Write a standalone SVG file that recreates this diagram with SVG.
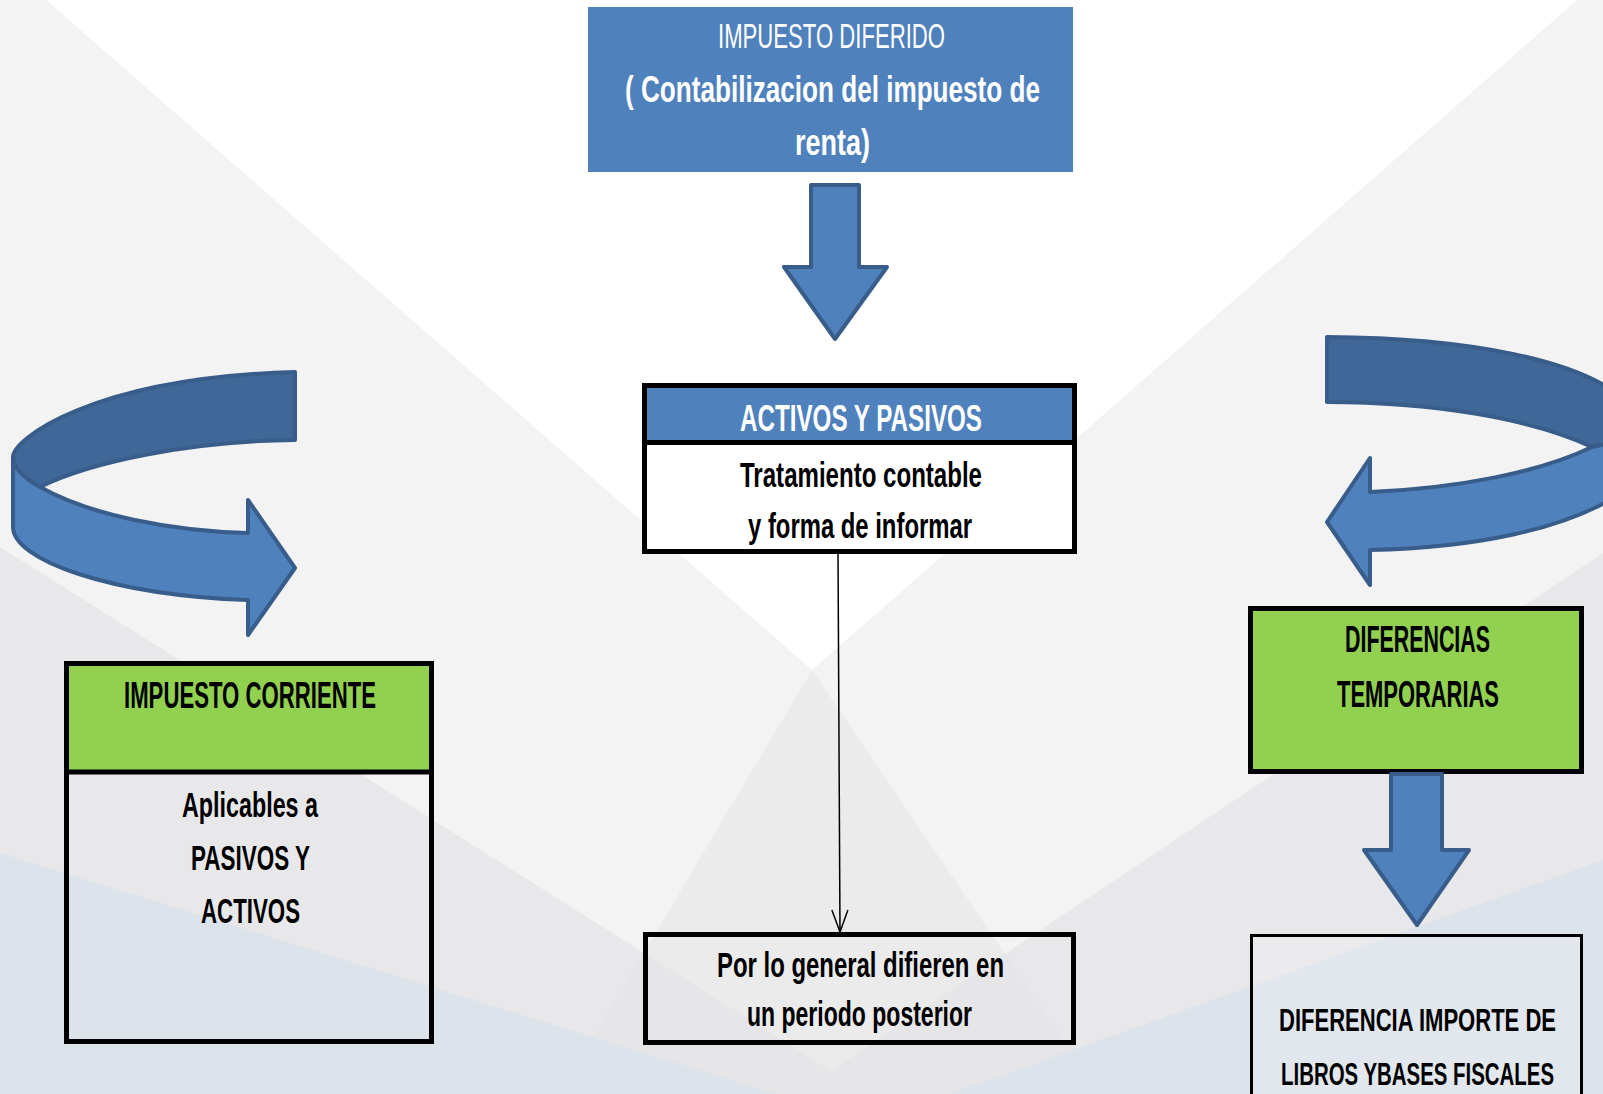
<svg xmlns="http://www.w3.org/2000/svg" width="1603" height="1094" viewBox="0 0 1603 1094">
<defs>
<style>
.t{font-family:"Liberation Sans Narrow","Liberation Sans",Arial,sans-serif;font-weight:bold;font-size:35px;fill:#000}
.h{font-size:36px}
.wt{fill:#FFFFFF}
.reg{font-weight:normal}
.box{stroke:#000;stroke-width:5}
.arr{fill:#4F81BD;stroke:#385D8A;stroke-width:4;stroke-linejoin:round}
.back{fill:#3F6797;stroke:#385D8A;stroke-width:4;stroke-linejoin:round}
.conn{fill:none;stroke:#000;stroke-width:1.5}
</style>
<marker id="openArrow" markerUnits="userSpaceOnUse" markerWidth="30" markerHeight="24" refX="0" refY="0" viewBox="-24 -12 30 24" orient="auto">
<path d="M-22,-8 L0,0 L-22,8" fill="none" stroke="#000" stroke-width="1.5"/>
</marker>
</defs>

<g id="background">
<rect x="0" y="0" width="1603" height="1094" fill="#F3F3F3"/>
<polygon points="46,0 1577,0 812,670" fill="#FFFFFF"/>
<polygon points="0,547 868,1094 0,1094" fill="#E8E8EA"/>
<polygon points="1603,553 796,1094 1603,1094" fill="#E8E8EA"/>
<polygon points="812,670 560,1094 1100,1094" fill="#E4E4E6" opacity="0.5"/>
<polygon points="0,853 777,1094 0,1094" fill="#DCE3EA"/>
<polygon points="950,1094 1603,860 1603,1094" fill="#DCE3EA"/>
</g>

<g id="impuesto-diferido">
<rect x="588" y="7" width="485" height="165" fill="#4F81BD"/>
<text class="t wt reg" x="718" y="48" style="font-size:35px" textLength="227" lengthAdjust="spacingAndGlyphs">IMPUESTO DIFERIDO</text>
<text class="t wt" x="625" y="102" style="font-size:37px" textLength="415" lengthAdjust="spacingAndGlyphs">( Contabilizacion del impuesto de</text>
<text class="t wt" x="795" y="155" style="font-size:37px" textLength="75" lengthAdjust="spacingAndGlyphs">renta)</text>
</g>

<g id="arrow-down-top">
<path class="arr" d="M811,185 L859,185 L859,267 L887,267 L835,339 L784,267 L811,267 Z"/>
</g>

<g id="activos-pasivos">
<rect x="644.5" y="385.5" width="430" height="57" fill="#4F81BD"/>
<rect x="644.5" y="442.5" width="430" height="109" fill="#FFFFFF"/>
<rect class="box" x="644.5" y="385.5" width="430" height="166" fill="none"/>
<line x1="644.5" y1="442.5" x2="1074.5" y2="442.5" stroke="#000" stroke-width="5"/>
<text class="t h wt" x="740" y="431" textLength="242" lengthAdjust="spacingAndGlyphs">ACTIVOS Y PASIVOS</text>
<text class="t" x="740" y="487" textLength="242" lengthAdjust="spacingAndGlyphs">Tratamiento contable</text>
<text class="t" x="748" y="538" textLength="224" lengthAdjust="spacingAndGlyphs">y forma de informar</text>
</g>

<g id="por-lo-general">
<rect class="box" x="645.5" y="934.5" width="428" height="108" fill="none"/>
<text class="t" x="717" y="977" textLength="287" lengthAdjust="spacingAndGlyphs">Por lo general difieren en</text>
<text class="t" x="747" y="1026" textLength="225" lengthAdjust="spacingAndGlyphs">un periodo posterior</text>
</g>

<g id="arrow-curved-left">
<path class="back" d="M295,372 L295,440 C190,441 90,462 40,487 C22,477 13,467 13,457 C13,440 90,378 295,372 Z"/>
<path class="arr" d="M13,457 C13,467 22,477 40,487 C90,515 170,531 248,533 L248,500 L295,568 L248,635 L248,600 C110,595 13,560 13,527 Z"/>
</g>

<g id="impuesto-corriente">
<rect x="66.5" y="663.5" width="365" height="108.5" fill="#92D050"/>
<rect class="box" x="66.5" y="663.5" width="365" height="378" fill="none"/>
<line x1="66.5" y1="772" x2="431.5" y2="772" stroke="#000" stroke-width="5"/>
<text class="t h" x="124" y="708" textLength="252" lengthAdjust="spacingAndGlyphs">IMPUESTO CORRIENTE</text>
<text class="t" x="182" y="817" textLength="136" lengthAdjust="spacingAndGlyphs">Aplicables a</text>
<text class="t" x="191" y="870" textLength="119" lengthAdjust="spacingAndGlyphs">PASIVOS Y</text>
<text class="t" x="201" y="923" textLength="99" lengthAdjust="spacingAndGlyphs">ACTIVOS</text>
</g>

<g id="arrow-curved-right">
<path class="back" d="M1327,337 C1470,338 1580,360 1625,400 L1625,440 L1592,447 C1530,418 1430,402 1327,402 Z"/>
<path class="arr" d="M1592,447 C1540,472 1460,488 1370,492 L1370,458 L1327,522 L1370,585 L1370,550 C1470,548 1570,530 1625,490 L1625,440 Z"/>
</g>

<g id="diferencias-temporarias">
<rect class="box" x="1250.5" y="608.5" width="331" height="163" fill="#92D050"/>
<text class="t h" x="1345" y="652" textLength="145" lengthAdjust="spacingAndGlyphs">DIFERENCIAS</text>
<text class="t h" x="1337" y="707" textLength="162" lengthAdjust="spacingAndGlyphs">TEMPORARIAS</text>
</g>

<g id="arrow-down-right">
<path class="arr" d="M1391,774 L1442,774 L1442,850 L1469,850 L1417,925 L1364,850 L1391,850 Z"/>
</g>

<g id="diferencia-importe">
<path d="M1251.5,1094 V935.5 H1581.5 V1094 Z" fill="#FFFFFF" fill-opacity="0.15" stroke="none"/>
<path d="M1251.5,1094 V935.5 H1581.5 V1094" fill="none" stroke="#000" stroke-width="3"/>
<text class="t" x="0" y="0" transform="translate(1279,1031) scale(1,1.18)" style="font-size:27.2px" textLength="277" lengthAdjust="spacingAndGlyphs">DIFERENCIA IMPORTE DE</text>
<text class="t" x="0" y="0" transform="translate(1281,1085) scale(1,1.33)" style="font-size:24.1px" textLength="273" lengthAdjust="spacingAndGlyphs">LIBROS YBASES FISCALES</text>
</g>

<g id="connectors">
<line class="conn" x1="838" y1="553" x2="840" y2="932" marker-end="url(#openArrow)"/>
</g>
</svg>
